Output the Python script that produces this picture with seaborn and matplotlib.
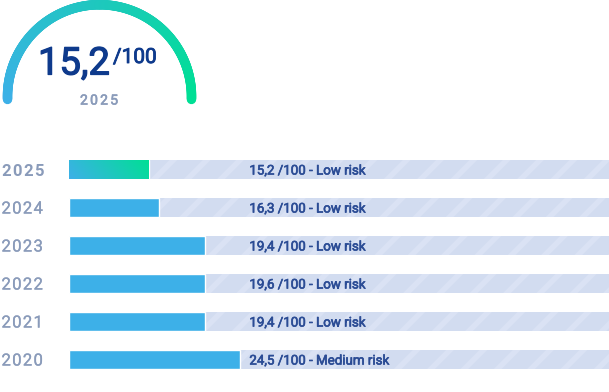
import numpy as np
import pandas as pd
import matplotlib
matplotlib.use("Agg")
import matplotlib.pyplot as plt
import matplotlib.patheffects as pe
import seaborn as sns
from matplotlib.collections import LineCollection
from matplotlib.colors import LinearSegmentedColormap

# data
years = ['2025', '2024', '2023', '2022', '2021', '2020']
scores = ['15,2', '16,3', '19,4', '19,6', '19,4', '24,5']
risk = ['Low risk', 'Low risk', 'Low risk', 'Low risk', 'Low risk', 'Medium risk']
fill_pct = [14.8, 16.7, 25.2, 25.2, 25.2, 31.7]   # filled share of each track (%)
track_max = [100, 100, 100, 100, 100, 100]

headline_score = '15,2'
headline_max = '/100'
headline_year = '2025'

BLUE = '#3DB0E8'
GREEN = '#00DF95'
TRACK = '#D2DCF0'
STRIPE = '#DAE2F4'
NAVY = '#0E3A8C'
LABEL = '#2B4C95'
GREY = '#8A9BBA'

sns.set_theme(style='white')
plt.rcParams['font.family'] = ['Roboto', 'DejaVu Sans']
plt.rcParams['hatch.linewidth'] = 4


def heavy(color, w=0.45):
    # Roboto here only ships regular/bold, so fake the medium weight
    return [pe.withStroke(linewidth=w, foreground=color)]


W, H = 609, 392
fig = plt.figure(figsize=(W / 100, H / 100), dpi=100)
fig.patch.set_facecolor('white')

# overlay in pixel coords for gauge and labels
ov = fig.add_axes([0, 0, 1, 1])
ov.set_xlim(0, W)
ov.set_ylim(H, 0)
ov.axis('off')
ov.patch.set_alpha(0)

df = pd.DataFrame({'year': years, 'fill': fill_pct, 'track': track_max})

ax = fig.add_axes([69 / W, 1 - 378.5 / H, 540 / W, 228 / H])
sns.barplot(data=df, x='track', y='year', color=TRACK, width=0.5,
            saturation=1, ax=ax)
for p in ax.patches:
    p.set_hatch('/')
    p.set_edgecolor(STRIPE)
    p.set_linewidth(0)
n_track = len(ax.patches)
sns.barplot(data=df, x='fill', y='year', color=BLUE, width=0.5,
            saturation=1, ax=ax)
ax.set_xlim(0, 100)
ax.set_ylim(5.5, -0.5)
ax.axis('off')

cmap = LinearSegmentedColormap.from_list('g', [BLUE, GREEN])

# gradient for the current year's bar
p0 = ax.patches[n_track]
x0, y0 = p0.get_x(), p0.get_y()
w0, h0 = p0.get_width(), p0.get_height()
p0.set_facecolor('none')
gx, gy = np.meshgrid(np.linspace(0, 1, 200), np.linspace(0, 1, 20))
grad = np.clip(gx * 0.85 + gy * 0.15, 0, 1)
im = ax.imshow(grad, cmap=cmap, extent=[x0, x0 + w0, y0, y0 + h0],
               aspect='auto', origin='upper', zorder=3)
im.set_clip_path(p0)

for i, (s, r) in enumerate(zip(scores, risk)):
    ax.text(33.4, i, f'{s} /100 - {r}', ha='left', va='center_baseline',
            fontsize=9.6, color=LABEL, zorder=4, path_effects=heavy(LABEL))

renderer = fig.canvas.get_renderer()


def spaced(x, y, s, gap, ha='left', **kw):
    widths = []
    for ch in s:
        t = ov.text(0, 0, ch, **kw)
        widths.append(t.get_window_extent(renderer).width)
        t.remove()
    total = sum(widths) + gap * (len(s) - 1)
    if ha == 'center':
        x = x - total / 2
    for ch, w in zip(s, widths):
        ov.text(x, y, ch, ha='left', va='baseline', **kw)
        x += w + gap


# year labels
for i, yr in enumerate(years):
    yc = 169.5 + 38 * i
    if i == 0:
        spaced(1.5, yc + 6, yr, 1.3, fontsize=12, fontweight='bold',
               color=GREY)
    else:
        spaced(1.5, yc + 6, yr, 1.3, fontsize=12, color=GREY,
               path_effects=heavy(GREY, 0.2))

# gauge
t = np.linspace(np.pi + 0.03, -0.03, 300)
gxs = 99.5 + 92 * np.cos(t)
gys = 96.7 - 92 * np.sin(t)
pts = np.column_stack([gxs, gys]).reshape(-1, 1, 2)
segs = np.concatenate([pts[:-1], pts[1:]], axis=1)
lc = LineCollection(segs, cmap=cmap, linewidths=9.5 * 0.72,
                    capstyle='round')
lc.set_array(np.linspace(0, 1, len(segs)))
ov.add_collection(lc)

ov.text(38, 74.5, headline_score, ha='left', va='baseline', fontsize=27.5,
        color=NAVY, path_effects=heavy(NAVY, 0.9))
ov.text(113, 63, headline_max, ha='left', va='baseline', fontsize=15,
        color=NAVY, path_effects=heavy(NAVY, 0.6))
spaced(99, 104.5, headline_year, 2.3, ha='center', fontsize=10,
       color=GREY, path_effects=heavy(GREY, 0.45))

fig.savefig('out.png', dpi=100)
